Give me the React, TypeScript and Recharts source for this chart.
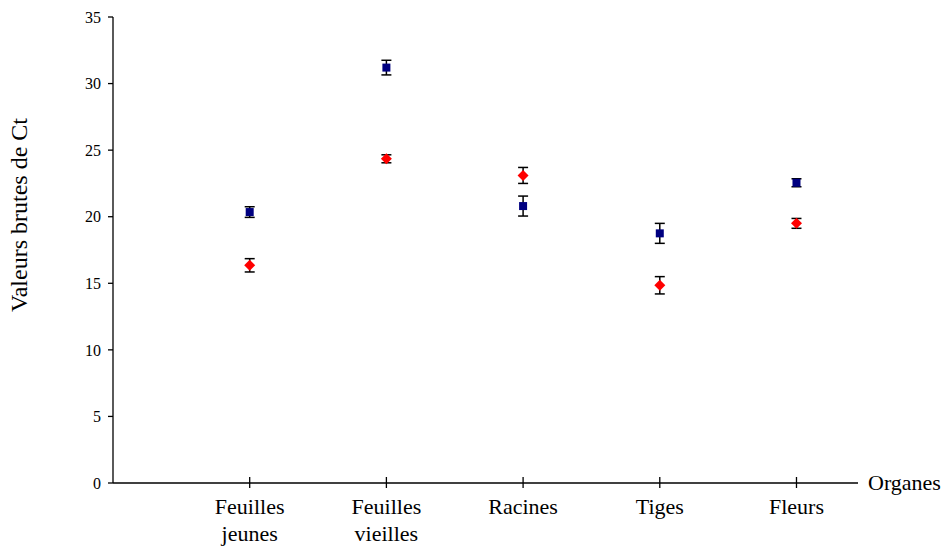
import { ScatterChart, Scatter, XAxis, YAxis, ErrorBar } from "recharts";

const organes = ["Feuilles\njeunes", "Feuilles\nvieilles", "Racines", "Tiges", "Fleurs"];
const positions = [1, 2, 3, 4, 5];
const bleuValeurs = [20.35, 31.2, 20.8, 18.75, 22.55];
const bleuErreurs = [0.4, 0.55, 0.75, 0.75, 0.3];
const rougeValeurs = [16.35, 24.35, 23.1, 14.85, 19.5];
const rougeErreurs = [0.5, 0.3, 0.6, 0.65, 0.37];
const yTicks = [0, 5, 10, 15, 20, 25, 30, 35];

const FONT = "Liberation Serif";
const textStyle = { fontFamily: FONT };

const bleu = positions.map((x, i) => ({ x, y: bleuValeurs[i], err: bleuErreurs[i] }));
const rouge = positions.map((x, i) => ({ x, y: rougeValeurs[i], err: rougeErreurs[i] }));

function Square(props: any) {
  const { cx, cy } = props;
  return <rect x={cx - 4} y={cy - 4} width={8} height={8} fill="#000080" />;
}

function Diamond(props: any) {
  const { cx, cy } = props;
  return (
    <path
      d={`M${cx},${cy - 5.5}L${cx + 5.5},${cy}L${cx},${cy + 5.5}L${cx - 5.5},${cy}Z`}
      fill="#ff0000"
    />
  );
}

function CategoryTick(props: any) {
  const { x, y, payload } = props;
  const label = organes[positions.indexOf(payload.value)] ?? "";
  const lines = label.split("\n");
  return (
    <g>
      <line x1={x} x2={x} y1={y - 14} y2={y - 3} stroke="#000" strokeWidth={1.3} />
      <text x={x} y={y + 23} textAnchor="middle" style={textStyle} fontSize={22} fill="#000">
        {lines.map((l: string, i: number) => (
          <tspan key={i} x={x} dy={i === 0 ? 0 : 27}>
            {l}
          </tspan>
        ))}
      </text>
    </g>
  );
}

export default function App() {
  return (
    <div style={{ position: "absolute", left: 0, top: 0, background: "#fff", fontFamily: FONT }}>
      <ScatterChart width={947} height={547} margin={{ top: 17, right: 89, bottom: 4, left: 23 }}>
        <XAxis
          type="number"
          dataKey="x"
          domain={[0, 5.45]}
          ticks={positions}
          allowDataOverflow
          height={60}
          axisLine={{ stroke: "#000", strokeWidth: 1.3 }}
          tickLine={false}
          tick={<CategoryTick />}
          label={{
            content: (p: any) => (
              <text
                x={p.viewBox.x + p.viewBox.width + 10}
                y={p.viewBox.y + 7}
                style={textStyle}
                fontSize={22}
                fill="#000"
              >
                Organes
              </text>
            ),
          }}
        />
        <YAxis
          type="number"
          dataKey="y"
          domain={[0, 35]}
          ticks={yTicks}
          width={90}
          tickSize={5}
          tickMargin={7}
          axisLine={{ stroke: "#000", strokeWidth: 1.3 }}
          tickLine={{ stroke: "#000", strokeWidth: 1.3 }}
          tick={{ fontFamily: FONT, fontSize: 16, fill: "#000", style: textStyle }}
          label={{
            content: () => (
              <text
                x={21}
                y={215}
                transform="rotate(-90 21 215)"
                textAnchor="middle"
                dominantBaseline="middle"
                style={textStyle}
                fontSize={24}
                fill="#000"
              >
                Valeurs brutes de Ct
              </text>
            ),
          }}
        />
        <Scatter data={bleu} shape={<Square />} isAnimationActive={false}>
          <ErrorBar dataKey="err" direction="y" width={5} stroke="#000" strokeWidth={1.5} />
        </Scatter>
        <Scatter data={rouge} shape={<Diamond />} isAnimationActive={false}>
          <ErrorBar dataKey="err" direction="y" width={5} stroke="#000" strokeWidth={1.5} />
        </Scatter>
      </ScatterChart>
    </div>
  );
}
